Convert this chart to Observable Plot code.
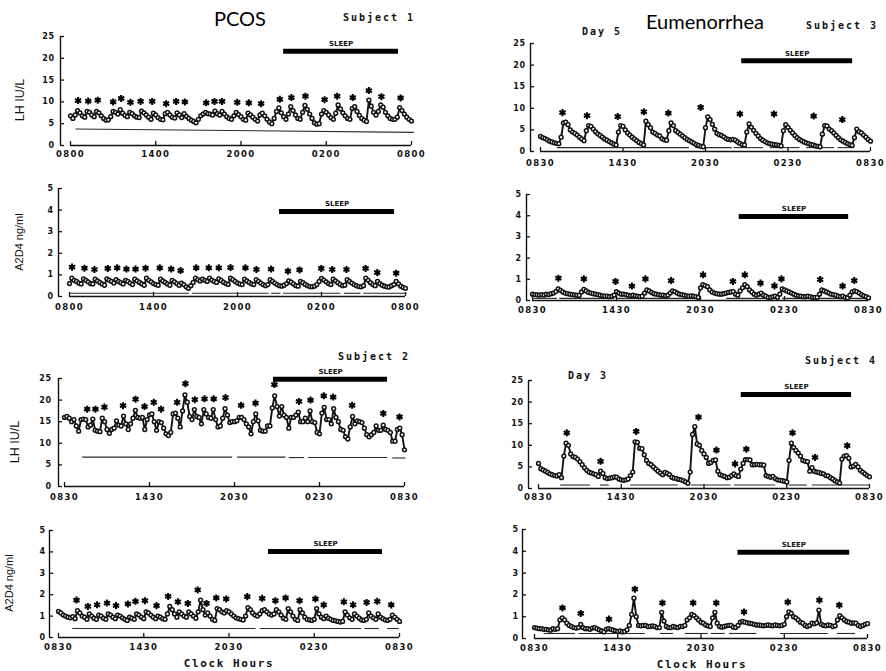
<!DOCTYPE html>
<html><head><meta charset="utf-8">
<script src="https://cdn.jsdelivr.net/npm/d3@7"></script>
<script src="https://cdn.jsdelivr.net/npm/@observablehq/plot@0.6"></script>
<style>
body{margin:0;background:#fff;}
#page{position:relative;width:886px;height:671px;overflow:hidden;background:#fff;}
.lbl{position:absolute;transform:translate(-50%,-50%);white-space:nowrap;color:#111;line-height:1;}
.mono{font-family:"DejaVu Sans Mono",monospace;font-weight:bold;font-size:10px;letter-spacing:2px;}
.clock{font-family:"DejaVu Sans Mono",monospace;font-weight:bold;font-size:11px;letter-spacing:1.6px;}
.title{font-family:Lato,"Open Sans",sans-serif;font-size:20px;color:#000;}
.ylab{font-family:"Liberation Sans",Arial,sans-serif;transform:translate(-50%,-50%) rotate(-90deg);}
.panel{position:absolute;}
g[aria-label="x-axis tick label"] text{letter-spacing:1.3px;}
g[aria-label="y-axis tick label"] text{letter-spacing:0.5px;}
g[aria-label="sleep-label"] text{letter-spacing:0.8px;}
</style></head><body><div id="page"></div>
<script>
// ---------- tick values / labels ----------
const lhTicks = [0, 5, 10, 15, 20, 25];
const a2d4Ticks = [0, 1, 2, 3, 4, 5];
const hourTickMinutes = [0, 360, 720, 1080, 1440];
const labels0800 = ["0800", "1400", "2000", "0200", "0800"];
const labels0830 = ["0830", "1430", "2030", "0230", "0830"];
const sampleMinutes = d3.range(0, 1441, 10); // samples every 10 min over 24 h

// ---------- PCOS Subject 1 : LH (IU/L) ----------
const lhS1 = [
 6.8,6.2,7.0,8.0,7.5,6.8,6.5,7.8,7.6,7.0,
 6.6,7.8,7.5,6.8,6.2,5.8,5.9,6.6,7.8,7.6,
 7.2,8.2,7.4,6.9,6.6,7.6,7.3,6.8,6.5,6.4,
 7.9,7.5,7.0,6.5,6.0,7.4,7.0,6.4,6.0,5.9,
 7.3,7.6,7.0,6.5,6.3,7.5,7.0,6.4,7.3,6.7,
 6.2,5.8,5.5,5.2,6.0,6.8,7.2,7.6,7.3,7.2,
 7.0,7.9,7.3,7.0,7.8,7.2,6.6,6.2,6.0,6.8,
 7.6,7.1,6.6,6.0,5.8,7.4,7.0,6.5,6.0,5.6,
 7.0,7.4,6.8,6.0,5.4,5.0,6.2,7.8,8.6,7.5,
 6.6,6.0,7.2,8.9,8.0,7.0,6.2,6.0,7.6,9.2,
 8.3,7.2,6.2,5.2,4.9,5.0,7.2,8.0,7.6,7.0,
 6.4,6.0,7.4,9.3,8.4,7.5,6.8,6.2,6.0,8.5,
 8.9,7.8,6.9,6.2,5.8,5.5,10.4,9.0,7.6,7.0,
 7.8,9.3,8.8,7.6,6.8,6.2,6.0,6.0,6.5,8.7,
 8.0,7.2,6.5,6.0,5.6];
const lhS1Pulses = [[32,10.3],[75,10.2],[115,10.4],[180,10.0],[214,10.8],[253,9.9],[296,10.1],[345,10.1],[404,9.6],[446,10.1],[483,10.0],[573,9.8],[608,10.1],[640,10.1],[704,9.9],[753,9.8],[805,9.6],[884,10.6],[933,11.0],[992,11.3],[1073,10.5],[1126,11.3],[1192,11.0],[1260,12.6],[1313,11.2],[1394,10.9]];
const lhS1Baseline = [[21,1450,3.8,3.0]];
const lhS1Sleep = [900,1385,21.6];

// ---------- PCOS Subject 1 : A2D4 (ng/ml) ----------
const a2d4S1 = [
 0.6,0.85,0.75,0.7,0.62,0.58,0.82,0.75,0.68,0.6,
 0.58,0.8,0.72,0.65,0.58,0.52,0.82,0.76,0.7,0.62,
 0.78,0.7,0.64,0.58,0.75,0.7,0.62,0.55,0.8,0.72,
 0.65,0.58,0.52,0.85,0.75,0.68,0.6,0.55,0.52,0.8,
 0.72,0.65,0.58,0.52,0.75,0.68,0.6,0.52,0.62,0.55,
 0.45,0.38,0.5,0.65,0.85,0.78,0.72,0.8,0.75,0.7,
 0.85,0.76,0.7,0.65,0.82,0.74,0.66,0.6,0.56,0.85,
 0.78,0.7,0.63,0.58,0.55,0.8,0.72,0.65,0.58,0.55,
 0.78,0.7,0.62,0.55,0.5,0.55,0.78,0.7,0.62,0.55,
 0.5,0.48,0.52,0.6,0.72,0.66,0.58,0.5,0.48,0.7,
 0.64,0.56,0.5,0.46,0.45,0.48,0.55,0.7,0.84,0.76,
 0.68,0.6,0.55,0.8,0.72,0.64,0.56,0.5,0.52,0.78,
 0.7,0.62,0.55,0.5,0.46,0.45,0.5,0.85,0.75,0.64,
 0.55,0.5,0.7,0.6,0.52,0.48,0.45,0.44,0.5,0.55,
 0.7,0.58,0.48,0.42,0.38];
const a2d4S1Pulses = [[11,1.36],[64,1.31],[107,1.25],[164,1.30],[204,1.33],[244,1.27],[283,1.27],[326,1.31],[387,1.33],[436,1.27],[476,1.20],[543,1.33],[597,1.33],[640,1.33],[690,1.34],[754,1.33],[801,1.25],[864,1.27],[936,1.17],[986,1.23],[1079,1.30],[1126,1.25],[1187,1.25],[1269,1.30],[1319,1.11],[1400,1.08]];
const a2d4S1Baseline = [[0,511,0.15,0.15],[525,854,0.15,0.15],[864,904,0.15,0.15],[915,1161,0.15,0.15],[1176,1247,0.15,0.15],[1259,1445,0.15,0.15]];
const a2d4S1Sleep = [900,1393,3.94];

// ---------- Eumenorrhea Subject 3 (Day 5) : LH ----------
const lhS3 = [
 3.5,3.2,3.0,2.7,2.4,2.2,2.0,1.9,1.8,3.3,
 6.6,6.8,6.2,5.0,4.5,4.2,3.8,3.3,2.9,2.5,
 4.8,6.0,5.8,5.2,4.6,4.1,3.7,3.3,2.9,2.6,
 2.3,2.0,1.7,1.5,4.5,6.0,5.8,5.0,4.3,3.8,
 3.3,2.9,2.5,2.1,1.8,1.5,7.0,6.2,5.5,4.5,
 4.2,3.8,3.6,3.0,2.7,2.6,4.8,6.6,6.0,4.8,
 4.4,4.0,3.6,3.2,2.8,2.5,2.2,1.9,1.6,1.4,
 1.2,1.1,5.5,8.0,7.4,6.3,5.2,4.2,3.9,3.7,
 3.4,3.0,2.8,2.7,2.8,2.6,2.2,1.9,1.6,1.5,
 4.5,6.4,5.6,4.9,4.2,3.6,3.0,2.6,2.3,2.0,
 1.8,1.7,1.6,1.5,1.4,1.3,4.8,6.2,5.6,4.9,
 4.3,3.7,3.2,2.8,2.5,2.2,2.0,1.8,1.6,1.5,
 1.3,1.2,1.1,4.0,6.0,5.9,5.2,4.8,4.3,3.7,
 3.2,2.7,2.4,2.1,1.8,1.6,1.4,3.2,5.2,4.6,
 4.3,3.8,3.3,2.8,2.4];
const lhS3Pulses = [[96,9.0],[203,8.3],[337,8.1],[451,9.2],[558,8.9],[699,10.2],[870,8.7],[1019,8.7],[1192,8.2],[1317,7.4]];
const lhS3Baseline = [[71,647,0.9,0.9],[676,834,0.9,0.9],[842,971,0.9,0.9],[1000,1130,0.9,0.9],[1159,1281,0.9,0.9],[1296,1368,0.9,0.9]];
const lhS3Sleep = [878,1362,21.0];

// ---------- Eumenorrhea Subject 3 : A2D4 ----------
const a2d4S3 = [
 0.3,0.28,0.27,0.25,0.28,0.25,0.3,0.28,0.32,0.35,
 0.42,0.55,0.48,0.4,0.35,0.32,0.3,0.28,0.27,0.25,
 0.24,0.4,0.52,0.45,0.38,0.35,0.32,0.3,0.28,0.25,
 0.22,0.2,0.2,0.18,0.2,0.25,0.42,0.35,0.3,0.3,
 0.28,0.25,0.22,0.25,0.22,0.2,0.18,0.2,0.35,0.5,
 0.45,0.38,0.32,0.3,0.28,0.25,0.25,0.22,0.25,0.35,
 0.45,0.42,0.35,0.3,0.28,0.25,0.22,0.2,0.22,0.2,
 0.18,0.15,0.6,0.75,0.7,0.65,0.5,0.4,0.35,0.32,
 0.3,0.3,0.32,0.35,0.38,0.4,0.42,0.3,0.25,0.45,
 0.6,0.75,0.65,0.5,0.4,0.3,0.25,0.3,0.35,0.25,
 0.2,0.15,0.15,0.18,0.2,0.15,0.3,0.55,0.5,0.45,
 0.4,0.35,0.3,0.25,0.22,0.2,0.18,0.18,0.2,0.18,
 0.15,0.15,0.15,0.3,0.5,0.45,0.4,0.35,0.3,0.28,
 0.25,0.2,0.18,0.2,0.15,0.12,0.25,0.4,0.45,0.42,
 0.35,0.28,0.22,0.18,0.12];
const a2d4S3Pulses = [[111,1.05],[220,1.02],[356,0.90],[426,0.68],[484,1.02],[594,0.94],[731,1.21],[859,0.90],[910,1.21],[977,0.82],[1037,0.69],[1067,1.02],[1233,0.99],[1329,0.68],[1379,0.94]];
const a2d4S3Baseline = [[0,105,0.1,0.1],[115,350,0.1,0.1],[360,720,0.1,0.1],[830,1060,0.1,0.1],[1070,1440,0.1,0.1]];
const a2d4S3Sleep = [886,1355,3.96];

// ---------- PCOS Subject 2 : LH ----------
const lhS2 = [
 16.0,16.2,15.8,15.0,15.5,14.0,12.8,15.5,15.6,15.5,
 13.8,14.2,15.6,13.0,12.8,12.7,15.8,15.0,13.2,12.3,
 13.2,13.5,15.2,14.2,14.0,16.3,14.5,13.2,14.5,15.8,
 17.6,16.0,15.8,16.0,13.2,15.5,16.6,16.8,15.0,13.0,
 15.0,14.8,13.5,12.2,11.8,12.5,16.8,17.0,15.8,13.8,
 17.5,21.2,19.5,16.2,15.5,17.8,16.2,16.0,14.5,17.8,
 16.8,16.0,15.8,17.8,15.5,13.8,14.0,15.8,18.0,16.5,
 14.8,15.0,15.0,15.2,16.0,16.0,15.5,14.5,13.8,12.2,
 15.0,16.8,15.2,13.0,12.8,12.8,14.0,14.0,18.2,21.0,
 18.5,16.3,18.5,16.5,16.0,13.5,16.0,16.0,16.5,17.2,
 15.0,15.0,15.8,15.0,17.5,15.0,14.8,12.5,12.2,17.0,
 18.3,15.5,15.5,14.5,18.0,16.0,15.0,13.2,13.0,11.5,
 11.0,13.8,16.2,14.5,15.2,15.0,14.8,13.5,12.0,11.5,
 12.0,12.5,14.0,13.0,13.0,14.2,13.2,13.0,12.5,10.5,
 10.5,13.2,13.5,12.0,8.5];
const lhS2Pulses = [[96,17.9],[131,17.9],[169,18.4],[248,18.7],[301,20.2],[339,18.5],[378,19.5],[409,17.9],[477,19.5],[512,23.8],[552,20.1],[593,20.3],[632,20.3],[682,20.6],[748,18.8],[809,19.3],[889,23.6],[993,19.7],[1042,20.0],[1098,21.0],[1138,20.7],[1218,18.8],[1350,16.9],[1419,16.1]];
const lhS2Baseline = [[75,710,6.8,6.8],[731,936,6.8,6.8],[950,1014,6.7,6.7],[1031,1367,6.7,6.7],[1388,1444,6.6,6.6]];
const lhS2Sleep = [885,1368,24.8];

// ---------- Eumenorrhea Subject 4 (Day 3) : LH ----------
const lhS4 = [
 5.8,4.6,4.3,4.0,3.7,3.4,3.2,3.0,2.9,3.2,
 2.5,7.5,10.5,10.0,8.0,7.4,7.2,6.8,6.2,5.5,
 4.8,4.2,3.8,3.6,3.4,3.2,2.8,4.0,3.5,2.5,
 2.3,2.4,2.5,2.7,2.6,2.2,2.0,1.9,2.0,2.2,
 3.0,3.8,10.8,10.7,9.3,9.2,7.8,6.5,5.8,5.5,
 5.0,4.5,4.0,3.6,3.2,3.7,3.5,3.2,2.6,2.4,
 2.3,2.1,2.0,1.8,1.5,1.2,3.8,12.5,14.3,10.3,
 10.0,8.8,8.0,7.2,5.8,6.0,6.5,6.6,4.0,3.2,
 3.0,2.8,2.5,2.6,3.0,3.4,3.0,2.8,4.5,5.8,
 6.7,6.7,6.6,5.5,5.5,5.6,5.5,5.5,5.4,3.0,
 2.8,2.6,2.8,2.3,2.0,1.9,1.8,1.7,1.5,6.5,
 10.5,9.5,8.8,8.2,7.5,6.5,6.3,6.2,4.0,4.8,
 4.0,3.8,3.7,3.5,3.4,3.0,2.9,2.5,2.2,1.8,
 1.5,1.3,6.8,7.5,7.6,7.0,5.0,5.2,5.6,5.0,
 4.2,3.8,3.4,3.0,2.7];
const lhS4Pulses = [[123,12.9],[270,6.3],[425,13.2],[696,16.5],[774,8.9],[855,5.7],[904,9.1],[1105,12.9],[1203,7.2],[1343,9.9]];
const lhS4Baseline = [[94,223,0.8,0.8],[267,306,0.8,0.8],[399,605,0.8,0.8],[663,836,0.8,0.8],[850,1030,0.8,0.8],[1088,1167,0.8,0.8],[1189,1441,0.8,0.8]];
const lhS4Sleep = [882,1362,21.75];

// ---------- PCOS Subject 2 : A2D4 ----------
const a2d4S2 = [
 1.22,1.15,1.05,1.0,0.95,0.92,0.98,0.88,1.25,1.15,
 1.0,0.95,0.85,1.1,1.0,0.9,0.85,1.05,1.0,0.9,
 0.85,1.1,1.05,0.95,0.88,1.05,1.0,0.92,0.85,0.8,
 0.95,0.9,0.85,1.1,1.05,0.95,0.88,1.2,1.15,1.05,
 0.95,0.88,1.0,0.95,0.88,0.85,1.1,1.45,1.3,1.1,
 0.95,1.2,1.1,1.0,0.95,1.2,1.1,1.0,0.9,1.2,
 1.75,1.3,1.05,1.15,1.0,0.85,0.8,1.35,1.3,1.2,
 1.15,1.25,1.2,1.1,1.0,0.92,0.88,0.85,0.82,1.0,
 1.4,1.3,1.15,1.05,1.0,1.1,1.25,1.3,1.2,1.1,
 1.05,1.1,1.3,1.2,1.05,0.9,0.85,1.35,1.2,1.0,
 0.85,0.8,1.3,1.15,0.95,0.85,0.82,0.8,0.85,1.35,
 1.1,0.95,0.88,1.0,0.9,0.85,0.8,0.78,0.75,0.72,
 0.75,1.2,1.05,0.92,0.85,1.1,1.0,0.9,0.82,0.8,
 0.85,1.15,1.0,0.92,0.85,1.1,0.95,0.88,0.82,0.8,
 0.85,1.05,0.95,0.85,0.75];
const a2d4S2Pulses = [[76,1.75],[124,1.45],[163,1.53],[205,1.61],[243,1.49],[293,1.57],[325,1.69],[365,1.72],[414,1.49],[463,1.92],[504,1.67],[546,1.59],[588,2.22],[625,1.59],[666,1.85],[708,1.80],[797,1.91],[860,1.83],[916,1.72],[959,1.85],[1018,1.72],[1085,1.80],[1120,1.52],[1205,1.67],[1244,1.53],[1301,1.64],[1346,1.69],[1405,1.52]];
const a2d4S2Baseline = [[58,832,0.42,0.42],[850,1278,0.42,0.42],[1292,1353,0.42,0.42],[1388,1437,0.42,0.42]];
const a2d4S2Sleep = [887,1368,4.02];

// ---------- Eumenorrhea Subject 4 : A2D4 ----------
const a2d4S4 = [
 0.5,0.48,0.45,0.45,0.42,0.42,0.4,0.38,0.45,0.42,
 0.45,0.85,0.95,0.85,0.7,0.6,0.55,0.5,0.48,0.5,
 0.65,0.5,0.45,0.45,0.42,0.48,0.5,0.45,0.4,0.35,
 0.3,0.42,0.45,0.42,0.38,0.35,0.32,0.35,0.3,0.32,
 0.4,0.6,1.1,1.85,1.0,0.6,0.58,0.6,0.6,0.55,
 0.55,0.58,0.55,0.5,0.5,1.2,0.8,0.55,0.5,0.5,
 0.55,0.52,0.5,0.55,0.55,0.6,0.85,0.95,1.1,1.05,
 0.95,0.85,0.75,0.7,0.62,0.58,0.55,0.95,1.2,0.7,
 0.55,0.52,0.55,0.58,0.6,0.6,0.52,0.5,0.6,0.75,
 0.78,0.75,0.72,0.7,0.68,0.65,0.62,0.62,0.6,0.58,
 0.6,0.62,0.6,0.58,0.62,0.6,0.58,0.6,0.65,1.0,
 1.22,1.15,1.0,0.95,0.85,0.75,0.7,0.6,0.55,0.6,
 0.7,0.68,0.72,1.3,0.65,0.6,0.58,0.62,0.6,0.55,
 0.58,0.85,1.05,0.95,0.85,0.78,0.75,0.7,0.72,0.7,
 0.6,0.55,0.6,0.65,0.68];
const a2d4S4Pulses = [[121,1.40],[200,1.15],[322,0.89],[434,2.26],[553,1.63],[686,1.63],[786,1.63],[906,1.22],[1095,1.67],[1232,1.76],[1318,1.53]];
const a2d4S4Baseline = [[39,175,0.23,0.23],[190,477,0.23,0.23],[542,599,0.23,0.23],[650,750,0.23,0.23],[762,822,0.23,0.23],[841,959,0.23,0.23],[1062,1268,0.23,0.23],[1308,1386,0.23,0.23]];
const a2d4S4Sleep = [880,1363,3.96];

// ---------- layout (pixel placement of each panel) ----------
const panels = [
 {values:lhS1, pulses:lhS1Pulses, base:lhS1Baseline, sleep:lhS1Sleep, ticks:lhTicks, labels:labels0800,
  L:{left:0,top:0,w:443,h:170,x0:70,x1:411,yTop:36,y0:145,yAxisX:60,xPad:5,yPad:6}},
 {values:lhS3, pulses:lhS3Pulses, base:lhS3Baseline, sleep:lhS3Sleep, ticks:lhTicks, labels:labels0830,
  L:{left:443,top:0,w:443,h:170,x0:540,x1:870,yTop:43,y0:151,yAxisX:530,xPad:8,yPad:5}},
 {values:a2d4S1, pulses:a2d4S1Pulses, base:a2d4S1Baseline, sleep:a2d4S1Sleep, ticks:a2d4Ticks, labels:labels0800,
  L:{left:0,top:170,w:443,h:170,x0:69,x1:405,yTop:188,y0:296,yAxisX:58,xPad:7,yPad:5}},
 {values:a2d4S3, pulses:a2d4S3Pulses, base:a2d4S3Baseline, sleep:a2d4S3Sleep, ticks:a2d4Ticks, labels:labels0830,
  L:{left:443,top:170,w:443,h:170,x0:532,x1:868,yTop:194,y0:300,yAxisX:526,xPad:6,yPad:5}},
 {values:lhS2, pulses:lhS2Pulses, base:lhS2Baseline, sleep:lhS2Sleep, ticks:lhTicks, labels:labels0830,
  L:{left:0,top:340,w:443,h:170,x0:64,x1:404,yTop:378,y0:486,yAxisX:58,xPad:7,yPad:7}},
 {values:lhS4, pulses:lhS4Pulses, base:lhS4Baseline, sleep:lhS4Sleep, ticks:lhTicks, labels:labels0830,
  L:{left:443,top:340,w:443,h:170,x0:538,x1:869,yTop:380,y0:488,yAxisX:528,xPad:5,yPad:5}},
 {values:a2d4S2, pulses:a2d4S2Pulses, base:a2d4S2Baseline, sleep:a2d4S2Sleep, ticks:a2d4Ticks, labels:labels0830,
  L:{left:0,top:510,w:443,h:161,x0:58,x1:399,yTop:530,y0:637,yAxisX:49,xPad:6,yPad:4}},
 {values:a2d4S4, pulses:a2d4S4Pulses, base:a2d4S4Baseline, sleep:a2d4S4Sleep, ticks:a2d4Ticks, labels:labels0830,
  L:{left:443,top:510,w:443,h:161,x0:534,x1:867,yTop:529,y0:638,yAxisX:522,xPad:6,yPad:4}}
];

const page = document.getElementById("page");
const INK = "#121212";

for (const p of panels) {
  const L = p.L;
  const pts = p.values.map((v, i) => ({t: sampleMinutes[i], v}));
  const pulses = p.pulses.map(([t, v]) => ({t, v}));
  const base = p.base.map(([t1, t2, v1, v2]) => ({t1, t2, v1, v2}));
  const sleep = [{t1: p.sleep[0], t2: p.sleep[1], v: p.sleep[2]}];
  const ymax = p.ticks[p.ticks.length - 1];
  const yAxisDx = L.yAxisX - L.x0;
  const svg = Plot.plot({
    width: L.w, height: L.h,
    marginLeft: L.x0 - L.left, marginRight: L.left + L.w - L.x1,
    marginTop: L.yTop - L.top, marginBottom: L.top + L.h - L.y0,
    x: {domain: [0, 1440]},
    y: {domain: [0, ymax]},
    style: {background: "transparent", overflow: "visible", color: INK},
    marks: [
      Plot.ruleX([0], {y1: 0, y2: ymax, dx: yAxisDx, stroke: INK, strokeWidth: 1.4}),
      Plot.axisY(p.ticks, {anchor: "left", tickSize: 4, tickPadding: L.yPad, dx: yAxisDx + 4,
        fontSize: 8, fontWeight: "bold", fontFamily: "DejaVu Sans", fill: INK, strokeWidth: 1.3}),
      Plot.ruleY([0], {stroke: INK, strokeWidth: 1.4}),
      Plot.axisX(hourTickMinutes, {anchor: "bottom", tickSize: 4, dy: -4, tickPadding: L.xPad,
        tickFormat: d => p.labels[hourTickMinutes.indexOf(d)],
        fontSize: 8.5, fontWeight: "bold", fontFamily: "DejaVu Sans", fill: INK, strokeWidth: 1.3}),
      Plot.link(base, {x1: "t1", x2: "t2", y1: "v1", y2: "v2", stroke: "#2a2a2a", strokeWidth: 1.1}),
      Plot.ruleY(sleep, {y: "v", x1: "t1", x2: "t2", stroke: "#000", strokeWidth: 5}),
      Plot.text(sleep, {x: d => (d.t1 + d.t2) / 2, y: "v", text: () => "SLEEP", dy: -7.5,
        fontSize: 7, fontWeight: "bold", fontFamily: "DejaVu Sans", fill: INK, ariaLabel: "sleep-label"}),
      Plot.line(pts, {x: "t", y: "v", stroke: INK, strokeWidth: 1.9}),
      Plot.dot(pts, {x: "t", y: "v", r: 1.9, stroke: INK, fill: "white", strokeWidth: 1.5}),
      Plot.dot(pulses, {x: "t", y: "v", symbol: "asterisk", r: 3.3, stroke: "#000", strokeWidth: 2})
    ]
  });
  svg.classList.add("panel");
  svg.style.left = L.left + "px";
  svg.style.top = L.top + "px";
  page.appendChild(svg);
}

// ---------- titles and annotations ----------
const annotations = [
 {text: "PCOS", x: 240, y: 17.5, cls: "title"},
 {text: "Eumenorrhea", x: 705, y: 21, cls: "title"},
 {text: "Subject 1", x: 379, y: 17.5, cls: "mono"},
 {text: "Subject 3", x: 842, y: 26, cls: "mono"},
 {text: "Day 5", x: 602, y: 31.5, cls: "mono"},
 {text: "Subject 2", x: 374, y: 357, cls: "mono"},
 {text: "Subject 4", x: 841, y: 360.5, cls: "mono"},
 {text: "Day 3", x: 588, y: 376, cls: "mono"},
 {text: "Clock Hours", x: 229, y: 663, cls: "clock"},
 {text: "Clock Hours", x: 702, y: 664, cls: "clock"},
 {text: "LH IU/L", x: 20, y: 100, cls: "ylab", size: 12.5},
 {text: "A2D4 ng/ml", x: 19, y: 242, cls: "ylab", size: 11},
 {text: "LH IU/L", x: 15, y: 442, cls: "ylab", size: 12.5},
 {text: "A2D4 ng/ml", x: 9, y: 583, cls: "ylab", size: 11}
];
for (const a of annotations) {
  const d = document.createElement("div");
  d.className = "lbl " + a.cls;
  d.textContent = a.text;
  d.style.left = a.x + "px";
  d.style.top = a.y + "px";
  if (a.size) d.style.fontSize = a.size + "px";
  page.appendChild(d);
}
</script>
</body></html>
